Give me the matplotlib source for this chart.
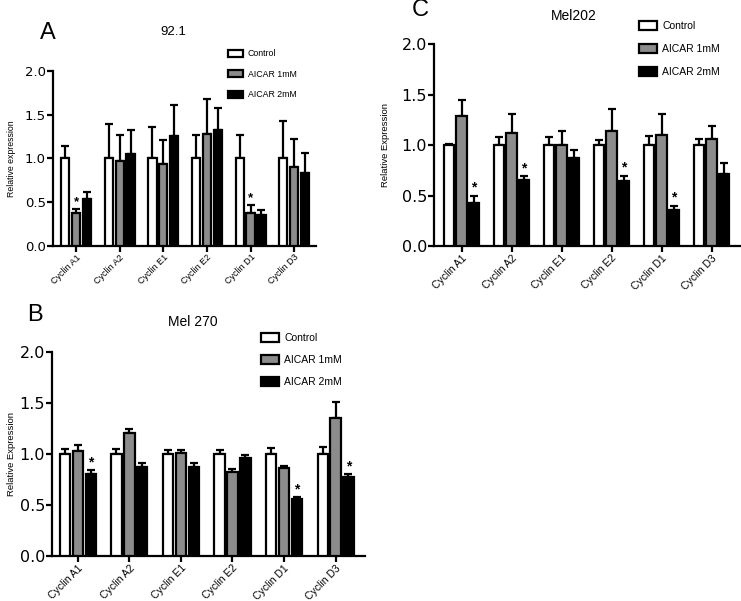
import matplotlib
matplotlib.use("Agg")
import matplotlib.pyplot as plt
import numpy as np
from matplotlib.patches import Patch

plt.rcParams['font.family'] = ['Liberation Sans', 'DejaVu Sans']

categories = ["Cyclin A1", "Cyclin A2", "Cyclin E1", "Cyclin E2", "Cyclin D1", "Cyclin D3"]
series_names = ["Control", "AICAR 1mM", "AICAR 2mM"]

# Panel A: 92.1
a_ctrl = [1.0, 1.0, 1.0, 1.0, 1.0, 1.0]
a_ctrl_sem = [0.145, 0.39, 0.36, 0.27, 0.27, 0.43]
a_1mM = [0.38, 0.975, 0.935, 1.28, 0.37, 0.90]
a_1mM_sem = [0.04, 0.295, 0.275, 0.40, 0.10, 0.325]
a_2mM = [0.54, 1.045, 1.255, 1.32, 0.35, 0.83]
a_2mM_sem = [0.07, 0.275, 0.355, 0.26, 0.06, 0.235]
a_stars = [(0, 1), (4, 1)]

# Panel C: Mel202
c_ctrl = [1.0, 1.0, 1.0, 1.0, 1.0, 1.0]
c_ctrl_sem = [0.005, 0.075, 0.083, 0.046, 0.09, 0.056]
c_1mM = [1.29, 1.115, 1.0, 1.14, 1.10, 1.06]
c_1mM_sem = [0.16, 0.195, 0.14, 0.22, 0.21, 0.125]
c_2mM = [0.43, 0.65, 0.875, 0.64, 0.36, 0.71]
c_2mM_sem = [0.07, 0.04, 0.075, 0.055, 0.04, 0.11]
c_stars = [(0, 2), (1, 2), (3, 2), (4, 2)]

# Panel B: Mel 270
b_ctrl = [1.0, 1.0, 1.0, 1.0, 1.0, 1.0]
b_ctrl_sem = [0.047, 0.047, 0.04, 0.044, 0.054, 0.07]
b_1mM = [1.025, 1.21, 1.008, 0.82, 0.858, 1.357]
b_1mM_sem = [0.065, 0.04, 0.036, 0.03, 0.026, 0.153]
b_2mM = [0.80, 0.868, 0.87, 0.96, 0.555, 0.77]
b_2mM_sem = [0.04, 0.04, 0.04, 0.03, 0.02, 0.03]
b_stars = [(0, 2), (4, 2), (5, 2)]

colors = ["white", "#8c8c8c", "black"]

fig = plt.figure(figsize=(7.41, 6.01), dpi=100)


def panel(rect, means, sems, stars, title, letter, ylabel, fs_tick, fs_title, fs_x, fs_leg,
          fs_ylab, bw, xlim, leg_anchor, leg_spacing, title_xy, letter_xy, ylab_x, lw=1.6):
    ax = fig.add_axes(rect)
    x = np.arange(len(categories))
    offsets = [-0.25, 0.0, 0.25]
    tops = []
    for i, (m, s) in enumerate(zip(means, sems)):
        ax.bar(x + offsets[i], m, width=bw, color=colors[i], edgecolor="black",
               linewidth=lw, label=series_names[i], zorder=3,
               yerr=[np.zeros(len(m)), s],
               error_kw=dict(ecolor="black", elinewidth=lw, capsize=2.6, capthick=lw, zorder=2))
        tops.append(np.array(m) + np.array(s))
    for g, sidx in stars:
        ax.text(g + offsets[sidx], tops[sidx][g] + 0.01, "*", ha="center", va="bottom",
                fontsize=fs_title, fontweight="bold")
    ax.set_ylim(0, 2.0)
    ax.set_xlim(*xlim)
    ax.set_yticks([0, 0.5, 1.0, 1.5, 2.0])
    ax.set_yticklabels(["0.0", "0.5", "1.0", "1.5", "2.0"], fontsize=fs_tick,
                       family=["DejaVu Sans"])
    ax.set_xticks(x)
    ax.set_xticklabels(categories, rotation=45, ha="right", rotation_mode="anchor", fontsize=fs_x)
    for sp in ["top", "right"]:
        ax.spines[sp].set_visible(False)
    for sp in ["left", "bottom"]:
        ax.spines[sp].set_linewidth(lw)
    ax.tick_params(axis="both", direction="out", width=lw, length=4, pad=1)
    handles = [Patch(facecolor=colors[i], edgecolor="black", linewidth=lw) for i in range(3)]
    fig.legend(handles, series_names, loc="upper left", bbox_to_anchor=leg_anchor,
               frameon=False, fontsize=fs_leg, handlelength=1.7, handleheight=0.9,
               labelspacing=leg_spacing, handletextpad=0.5, borderaxespad=0)
    fig.text(title_xy[0], title_xy[1], title, ha="center", va="center", fontsize=fs_title)
    fig.text(letter_xy[0], letter_xy[1], letter, ha="center", va="center", fontsize=17)
    fig.text(ylab_x, rect[1] + rect[3] / 2, ylabel, rotation=90, ha="center", va="center",
             fontsize=fs_ylab)
    return ax


W, H = 741.0, 601.0

def fx(px):
    return px / W

def fy(py):
    return 1 - py / H

# Panel A
panel([fx(53), fy(245.7), fx(263), 174.7 / H],
      [a_ctrl, a_1mM, a_2mM], [a_ctrl_sem, a_1mM_sem, a_2mM_sem], a_stars,
      "92.1", "A", "Relative expression", 9.5, 9.5, 6.5, 6.3, 6.3, 0.19, (-0.53, 5.5),
      (fx(225), fy(46)), 1.3, (fx(173), fy(32)), (fx(48), fy(33)), fx(12))

# Panel C
panel([fx(434), fy(246), fx(306), 202 / H],
      [c_ctrl, c_1mM, c_2mM], [c_ctrl_sem, c_1mM_sem, c_2mM_sem], c_stars,
      "Mel202", "C", "Relative Expression", 11.5, 10, 7.5, 7.5, 6.8, 0.21, (-0.55, 5.57),
      (fx(635), fy(17)), 1.25, (fx(574), fy(16)), (fx(420), fy(10)), fx(385))

# Panel B
panel([fx(52), fy(556), fx(313), 204 / H],
      [b_ctrl, b_1mM, b_2mM], [b_ctrl_sem, b_1mM_sem, b_2mM_sem], b_stars,
      "Mel 270", "B", "Relative Expression", 11.5, 10, 7.5, 7.5, 6.8, 0.2, (-0.5, 5.57),
      (fx(257), fy(329)), 1.15, (fx(193), fy(322)), (fx(35), fy(315)), fx(12))

fig.savefig("out.png", dpi=100)
